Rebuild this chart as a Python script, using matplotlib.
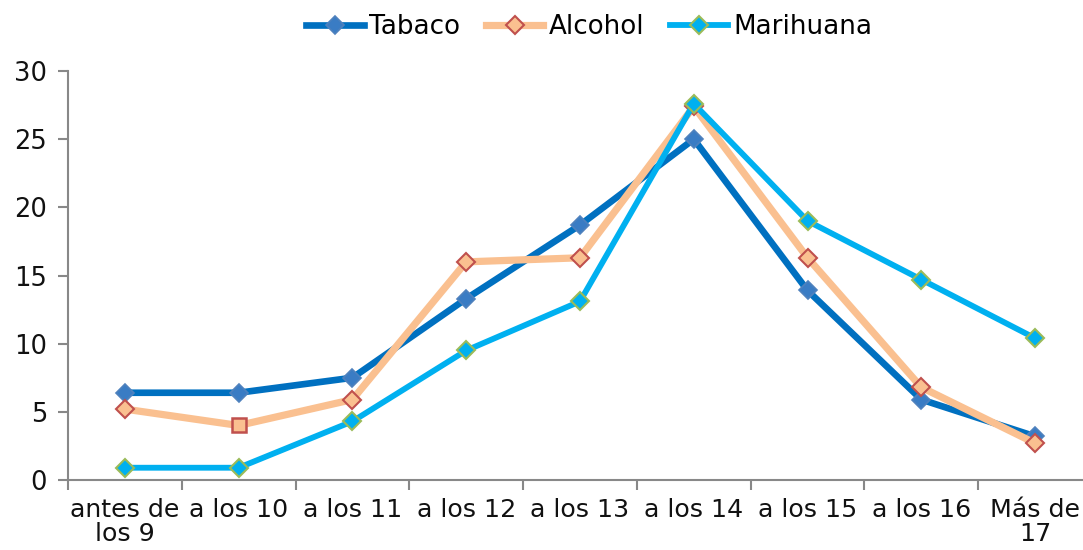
import matplotlib.pyplot as plt
from matplotlib.ticker import FixedLocator, NullFormatter

categories = ["antes de\nlos 9", "a los 10", "a los 11", "a los 12", "a los 13",
              "a los 14", "a los 15", "a los 16", "Más de\n17"]
tabaco = [6.4, 6.4, 7.5, 13.3, 18.7, 25.0, 13.9, 5.9, 3.2]
alcohol = [5.2, 4.0, 5.9, 16.0, 16.3, 27.4, 16.3, 6.8, 2.7]
marihuana = [0.9, 0.9, 4.3, 9.5, 13.1, 27.6, 19.0, 14.7, 10.4]
yticks = [0, 5, 10, 15, 20, 25, 30]
square_idx = 1  # Alcohol point drawn with a square marker in the original

plt.rcParams['font.family'] = ['DejaVu Sans']

fig = plt.figure(figsize=(10.83, 5.5), dpi=100)
ax = fig.add_axes([68/1083, 70/550, (1092-68)/1083, (480-71)/550])

x = list(range(len(categories)))
ax.plot(x, tabaco, color='#0070C0', lw=4.8, marker='D', ms=9.5,
        mfc='#3A7CC4', mec='#4F81BD', mew=1.2, label='Tabaco', zorder=3)
ax.plot(x, alcohol, color='#FAC090', lw=5.2, marker='D', ms=9.5,
        markevery=[i for i in x if i != square_idx],
        mfc='#FAC090', mec='#C0504D', mew=1.5, label='Alcohol', zorder=4)
ax.plot([x[square_idx]], [alcohol[square_idx]], ls='none', marker='s', ms=10.5,
        mfc='#FAC090', mec='#C0504D', mew=1.8, zorder=5)
ax.plot(x, marihuana, color='#00B0F0', lw=4.2, marker='D', ms=9.5,
        mfc='#00B0F0', mec='#9BBB59', mew=1.5, label='Marihuana', zorder=6)

ax.set_xlim(-0.5, len(categories) - 0.5)
ax.set_ylim(0, 30)
ax.set_yticks(yticks)
ax.set_xticks(x)
ax.set_xticklabels(categories, fontsize=18.2, color='#111111', linespacing=1.0)
ax.tick_params(axis='x', which='major', length=0, pad=13)
ax.xaxis.set_minor_locator(FixedLocator([i + 0.5 for i in range(-1, len(categories))]))
ax.xaxis.set_minor_formatter(NullFormatter())
ax.tick_params(axis='x', which='minor', length=7, color='#888888', width=1.5)
ax.tick_params(axis='y', length=7, color='#888888', width=1.5, labelsize=18.5,
               labelcolor='#111111', pad=8)

for s in ['top', 'right']:
    ax.spines[s].set_visible(False)
for s in ['left', 'bottom']:
    ax.spines[s].set_color('#888888')
    ax.spines[s].set_linewidth(1.5)

fig.legend(loc='upper center', bbox_to_anchor=(0.544, 1.0), ncol=3, frameon=False,
           fontsize=18.8, handlelength=2.2, handletextpad=0.2, columnspacing=1.0,
           borderaxespad=0.15)

fig.savefig('out.png', dpi=100)
